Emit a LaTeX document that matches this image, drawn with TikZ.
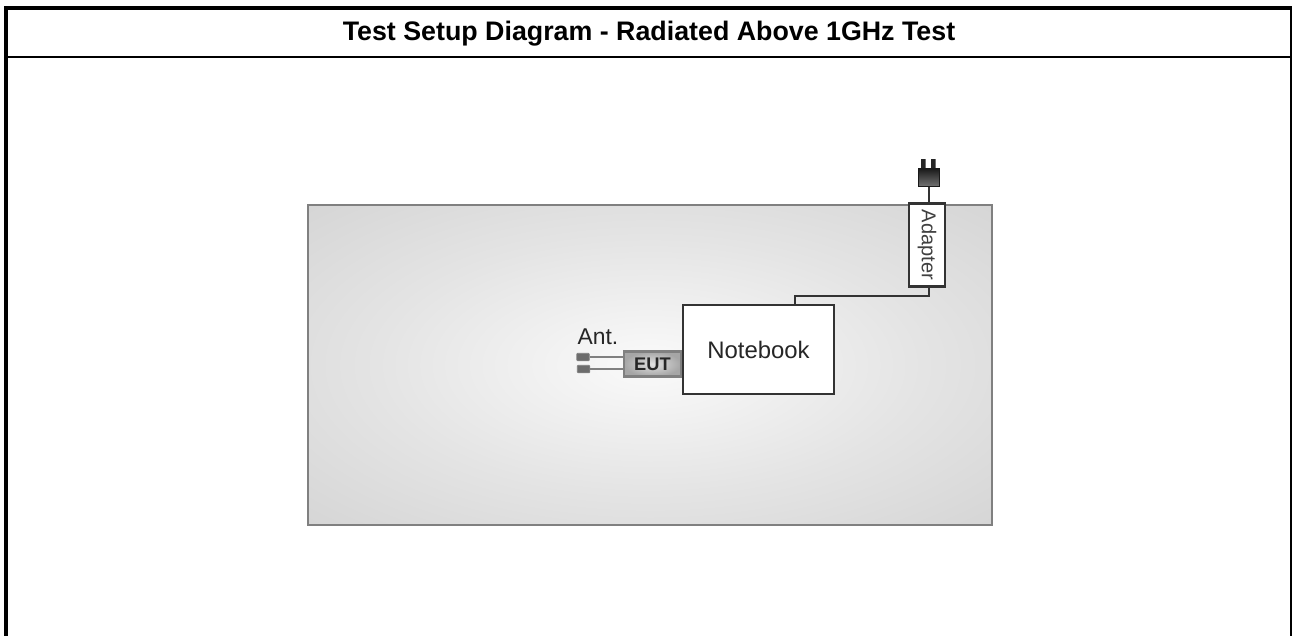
\documentclass[tikz,border=0pt]{standalone}
\usepackage{fontspec}
\setmainfont{Liberation Sans}
\usetikzlibrary{calc,positioning}
\definecolor{tablegray}{RGB}{128,128,128}
\definecolor{cablegray}{RGB}{51,51,51}
\definecolor{tablemid}{RGB}{228,228,228}
\definecolor{tableedge}{RGB}{214,214,214}
\definecolor{tablecorner}{RGB}{200,200,200}
\definecolor{tablecentre}{RGB}{250,250,250}
\pgfdeclareradialshading{tableshade}{\pgfpoint{0bp}{0bp}}{color(0bp)=(tablecentre);color(20bp)=(tablemid);color(35bp)=(tableedge);color(50bp)=(tablecorner)}
\tikzset{
  devbox/.style={draw=cablegray,fill=white,line width=1.2pt,inner sep=0pt},
  antbox/.style={draw=gray,fill=gray!85!black,rounded corners=0.5pt,line width=0.5pt,minimum width=0.25cm,minimum height=0.15cm,inner sep=0pt},
  lbl/.style={font=\fontsize{13}{15}\selectfont,text=black!85}
}
\begin{document}
\begin{tikzpicture}[x=0.02cm,y=-0.02cm]
  \useasboundingbox (0,0) rectangle (1292,636);
  % frame
  \fill (4,6) rectangle (1292,10);
  \fill (4,6) rectangle (8,636);
  \fill (1290,6) rectangle (1292,636);
  \fill (8,56) rectangle (1290,58);
  \node[font=\bfseries\fontsize{15.25}{17}\selectfont,anchor=base] (title) at (649,40) {Test Setup Diagram - Radiated Above 1GHz Test};
  % table
  \shade[shading=tableshade] (308,205) rectangle (992,525);
  \draw[tablegray,line width=0.9pt] (308,205) rectangle (992,525);
  % devices
  \node[devbox,lbl,font=\fontsize{13.6}{15}\selectfont,minimum width=3.02cm,minimum height=1.78cm] (notebook) at (758.5,349.5) {Notebook};
  \node[draw=gray,inner color=black!12,outer color=black!35,line width=1.2pt,minimum width=1.14cm,minimum height=0.5cm,inner sep=0pt,font=\bfseries\fontsize{10.4}{13}\selectfont,anchor=east,text=black!85] (eut) at (notebook.west |- 0,364) {EUT};
  \node[antbox] (anttop) at (583,357) {};
  \node[antbox] (antbot) at (583.5,369) {};
  \node[lbl,anchor=south] (antlabel) at (598,351) {Ant.};
  \draw[gray,line width=1pt] (anttop.east) -- (anttop.east -| eut.west);
  \draw[gray,line width=1pt] (antbot.east) -- (antbot.east -| eut.west);
  \node[devbox,minimum width=0.72cm,minimum height=1.66cm] (adapter) at (927,245) {};
  \node[rotate=-90,font=\fontsize{11.4}{13}\selectfont,text=black!75] (adapterlabel) at (adapter.center) {Adapter};
  % plug
  \node[draw=black!90,top color=black!90,bottom color=black!55,line width=0.6pt,minimum width=0.41cm,minimum height=0.36cm,inner sep=0pt] (plug) at (929,177.5) {};
  \fill[black!85] (921,159) rectangle (925.5,168) (931,159) rectangle (935.5,168);
  \draw[cablegray,line width=1pt] (plug.south) -- (plug.south |- adapter.north);
  \coordinate (bend) at (795,296);
  \draw[cablegray,line width=1.2pt] (plug.south |- adapter.south) |- (bend) -- (bend |- notebook.north);
\end{tikzpicture}
\end{document}
